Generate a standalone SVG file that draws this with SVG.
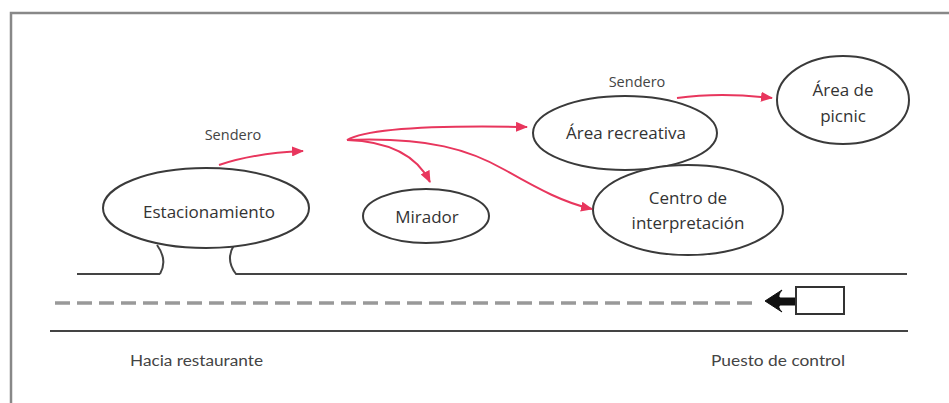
<svg xmlns="http://www.w3.org/2000/svg" width="949" height="403" viewBox="0 0 949 403">
<defs>
<marker id="ah" markerUnits="userSpaceOnUse" markerWidth="12" markerHeight="10" refX="11" refY="5" orient="auto">
<path d="M0,0 L12,5 L0,10 z" fill="#e8365d"/>
</marker>
<style>
.node{fill:#fff;stroke:#3a3a3a;stroke-width:2}
.lbl{font-family:"Open Sans",Lato,"Liberation Sans",sans-serif;font-size:17px;fill:#333;text-anchor:middle;dominant-baseline:central}
.sm{font-family:"Open Sans",Lato,"Liberation Sans",sans-serif;font-size:14.5px;fill:#444;text-anchor:middle;dominant-baseline:central}
.bot{font-family:Lato,"Liberation Sans",sans-serif;font-size:14.5px;fill:#444;dominant-baseline:central}
.conn{fill:none;stroke:#e8365d;stroke-width:2;marker-end:url(#ah)}
.road{fill:none;stroke:#444;stroke-width:2}
</style>
</defs>
<rect width="949" height="403" fill="#fff"/>
<g id="frame">
<path d="M11,403 V13 H949" fill="none" stroke="#888" stroke-width="2.5"/>
</g>
<g id="road">
<path class="road" d="M77,274 H160"/>
<path class="road" d="M157,245 Q168,260 160,274"/>
<path class="road" d="M234,245 Q225,260 236,274 H907"/>
<path class="road" d="M50,331 H908"/>
<path d="M55,303 H753" fill="none" stroke="#999" stroke-width="3.5" stroke-dasharray="15 7"/>
<path d="M765,301 L782,290 Q777,296 780,298 L796,298 L796,305 L780,305 Q777,307 782,312 Z" fill="#111" stroke="#111" stroke-width="1" stroke-linejoin="round"/>
<rect x="796" y="287" width="48" height="27" fill="#fff" stroke="#333" stroke-width="2"/>
</g>
<g id="estacionamiento">
<ellipse class="node" cx="206" cy="208" rx="103" ry="40"/>
<text class="lbl" x="209" y="211">Estacionamiento</text>
</g>
<g id="mirador">
<ellipse class="node" cx="426" cy="216" rx="63" ry="27"/>
<text class="lbl" x="427" y="216">Mirador</text>
</g>
<g id="area-recreativa">
<ellipse class="node" cx="625" cy="133" rx="92" ry="37"/>
<text class="lbl" x="626" y="132">Área recreativa</text>
</g>
<g id="centro">
<ellipse class="node" cx="688" cy="210" rx="95" ry="45"/>
<text class="lbl" x="688" y="197">Centro de</text>
<text class="lbl" x="688" y="222">interpretación</text>
</g>
<g id="picnic">
<ellipse class="node" cx="843" cy="100" rx="66" ry="44"/>
<text class="lbl" x="843" y="89">Área de</text>
<text class="lbl" x="843" y="115">picnic</text>
</g>
<g id="connectors">
<path class="conn" d="M219,165 Q255,153 303,151"/>
<path class="conn" d="M347,140 Q375,124 527,127"/>
<path class="conn" d="M347,140 Q410,142 430,182"/>
<path class="conn" d="M347,140 C430,137 470,150 505,170 C540,190 565,203 592,209"/>
<path class="conn" d="M677,98 Q720,92 772,98"/>
</g>
<g id="labels">
<text class="sm" x="233" y="134">Sendero</text>
<text class="sm" x="637" y="81">Sendero</text>
<text class="bot" x="130" y="360" textLength="133" lengthAdjust="spacingAndGlyphs">Hacia restaurante</text>
<text class="bot" x="711" y="360" textLength="134" lengthAdjust="spacingAndGlyphs">Puesto de control</text>
</g>
</svg>
